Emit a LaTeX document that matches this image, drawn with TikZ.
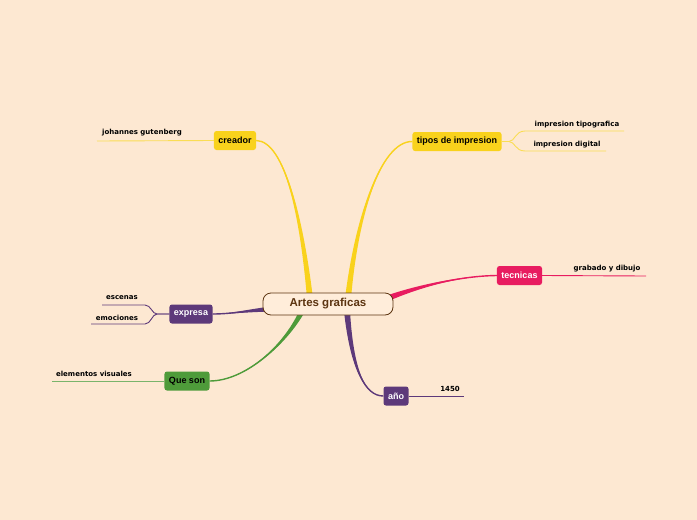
\documentclass[tikz,border=0pt]{standalone}
\usepackage{fontspec}
\setmainfont{Liberation Sans}
\newfontfamily\leaffont{DejaVu Sans}
\usetikzlibrary{calc,backgrounds}
\definecolor{mmbg}{RGB}{253,232,210}
\definecolor{mmcentre}{RGB}{255,237,218}
\definecolor{mmbrown}{RGB}{92,52,16}
\definecolor{mmyellow}{RGB}{249,210,28}
\definecolor{mmpink}{RGB}{232,28,96}
\definecolor{mmpurple}{RGB}{93,57,122}
\definecolor{mmgreen}{RGB}{78,155,58}

% tapered main branch: colour, from, control 1, control 2, to, half width vector
\newcommand{\branch}[6]{%
  \fill[#1] ($#2+#6$) .. controls ($#3+0.5*#6$) and #4 .. #5
    .. controls #4 and ($#3-0.5*#6$) .. ($#2-#6$) -- cycle;
  \draw[#1,line width=1.4pt] #2 .. controls #3 and #4 .. #5;}

\begin{document}
\begin{tikzpicture}[x=1pt,y=-1pt,
  centre/.style={draw=mmbrown,fill=mmcentre,text=mmbrown,line width=0.8pt,rounded corners=8pt,
    minimum width=130,minimum height=22,font=\bfseries\fontsize{11.5}{13}\selectfont},
  topic/.style={rounded corners=2.5pt,minimum height=19,inner xsep=4.5,font=\bfseries\fontsize{9}{11}\selectfont},
  leaf/.style={inner sep=1,font=\leaffont\bfseries\fontsize{7}{8}\selectfont},
  twig/.style={line width=0.9pt}
]
  \useasboundingbox (0,0) rectangle (697,520);
  \begin{scope}[on background layer]
    \fill[mmbg] (0,0) rectangle (697,520);
  \end{scope}

  % Centre
  \node[centre] (cen) at (328,304) {Artes graficas};

  % Main topics
  \node[topic,fill=mmyellow] (cre) at (235,140.5) {creador};
  \node[topic,fill=mmyellow] (tip) at (457,141.5) {tipos de impresion};
  \node[topic,fill=mmpink,text=white] (tec) at (519.5,275.5) {tecnicas};
  \node[topic,fill=mmpurple,text=white] (exp) at (191,314) {expresa};
  \node[topic,fill=mmgreen] (qs) at (187,381) {Que son};
  \node[topic,fill=mmpurple,text=white] (ano) at (396,396) {año};

  % Branches
  \begin{scope}[on background layer]
    \branch{mmyellow}{($(cen.north)+(-18,6)$)}{(302,220)}{(285,141)}{(cre.east)}{(3,0)}
    \branch{mmyellow}{($(cen.north)+(20,6)$)}{(356,220)}{(380,141)}{(tip.west)}{(3,0)}
    \branch{mmpink}{($(cen.north east)+(-4,5)$)}{(420,286)}{(460,276)}{(tec.west)}{(0,3)}
    \branch{mmpurple}{($(cen.west)+(8,5)$)}{(245,311)}{(230,314)}{(exp.east)}{(0,2.5)}
    \branch{mmgreen}{($(cen.south)+(-26,-4)$)}{(285,345)}{(245,381)}{(qs.east)}{(3,0)}
    \branch{mmpurple}{($(cen.south)+(19,-4)$)}{(352,370)}{(365,396)}{(ano.west)}{(3,0)}
  \end{scope}

  % Creador
  \coordinate (g1) at (97,141);
  \draw[twig,mmyellow!75] (cre.west) -- (g1);
  \node[leaf] (gut) at (142,133) {johannes gutenberg};

  % Tipos de impresion
  \coordinate (t1) at (624,131);
  \coordinate (t2) at (606,151);
  \draw[twig,mmyellow!75] (tip.east) -- (509,141.5) .. controls (515,141.5) and (515,131) .. (525,131) -- (t1);
  \draw[twig,mmyellow!75] (tip.east) -- (509,141.5) .. controls (515,141.5) and (515,151) .. (525,151) -- (t2);
  \node[leaf] (tipo) at (577,125) {impresion tipografica};
  \node[leaf] (dig) at (567,145) {impresion digital};

  % Tecnicas
  \coordinate (d1) at (646,276);
  \draw[twig,mmpink] (tec.east) -- (d1);
  \node[leaf] (grab) at (607,269) {grabado y dibujo};

  % Expresa
  \coordinate (e1) at (102,305);
  \coordinate (e2) at (91,324);
  \draw[twig,mmpurple] (exp.west) -- (157,314) .. controls (152,314) and (151,305) .. (145,305) -- (e1);
  \draw[twig,mmpurple] (exp.west) -- (157,314) .. controls (152,314) and (151,324) .. (145,324) -- (e2);
  \node[leaf] (esc) at (122,298) {escenas};
  \node[leaf] (emo) at (117,318) {emociones};

  % Que son
  \coordinate (v1) at (52,381);
  \draw[twig,mmgreen!75] (qs.west) -- (v1);
  \node[leaf] (vis) at (94,374) {elementos visuales};

  % Año
  \coordinate (y1) at (464,396);
  \draw[twig,mmpurple] (ano.east) -- (y1);
  \node[leaf] (yr) at (450,389) {1450};
\end{tikzpicture}
\end{document}
